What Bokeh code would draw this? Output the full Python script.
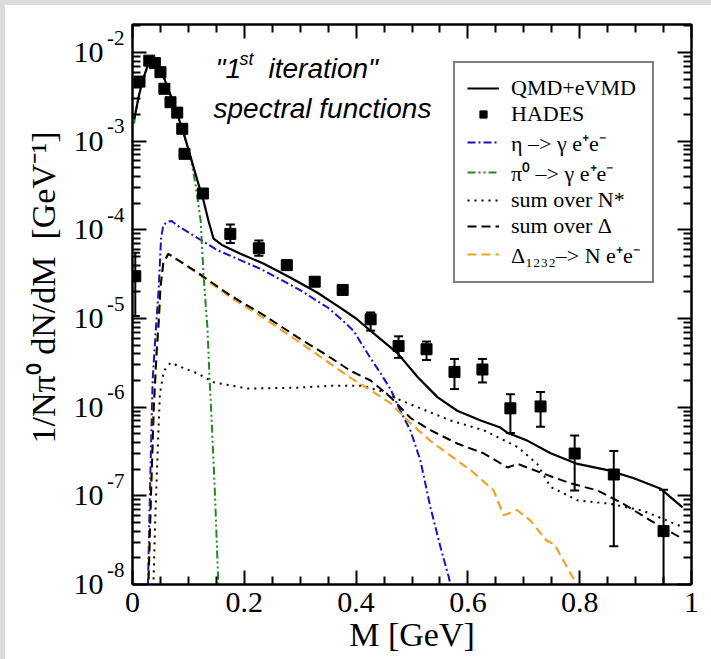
import math
from bokeh.plotting import figure
from bokeh.models import (FixedTicker, LinearAxis, LogAxis, Label, Legend, LegendItem, LogScale,
                          ColumnDataSource, Whisker, TeeHead, CustomJSTickFormatter, Range1d)
from bokeh.embed import file_html
from bokeh.resources import INLINE

# ---------------- data ----------------
qmd_m = [0.003, 0.005, 0.012, 0.02, 0.029, 0.036, 0.045, 0.056, 0.065, 0.074, 0.083, 0.092,
         0.104, 0.116, 0.127, 0.136, 0.145, 0.16, 0.193, 0.234, 0.283, 0.331, 0.372, 0.40,
         0.426, 0.474, 0.51, 0.546, 0.581, 0.623, 0.658, 0.671, 0.707, 0.748, 0.796, 0.85,
         0.897, 0.945, 0.984]
qmd_y = [1.78e-3, 2.04e-3, 3.39e-3, 5.25e-3, 7.76e-3, 8.13e-3, 7.08e-3, 5.25e-3, 3.72e-3,
         2.63e-3, 1.78e-3, 1.20e-3, 6.61e-4, 3.63e-4, 2.14e-4, 1.26e-4, 7.94e-5, 6.76e-5,
         5.37e-5, 4.17e-5, 2.88e-5, 1.95e-5, 1.32e-5, 1.0e-5, 7.24e-6, 4.07e-6, 2.19e-6,
         1.29e-6, 9.12e-7, 7.08e-7, 5.89e-7, 5.13e-7, 4.17e-7, 3.02e-7, 2.29e-7, 1.95e-7,
         1.58e-7, 1.20e-7, 7.41e-8]

pi0_m = [0.003, 0.005, 0.012, 0.02, 0.029, 0.038, 0.047, 0.056, 0.065, 0.074, 0.083, 0.092,
         0.104, 0.113, 0.122, 0.127, 0.134, 0.138, 0.142, 0.147, 0.153, 0.155]
pi0_y = [1.58e-3, 2.04e-3, 3.39e-3, 5.01e-3, 7.76e-3, 8.13e-3, 6.61e-3, 5.25e-3, 3.72e-3,
         2.63e-3, 1.78e-3, 1.20e-3, 6.61e-4, 3.16e-4, 1.26e-4, 3.16e-5, 7.94e-6, 2.0e-6,
         6.31e-7, 1.26e-7, 1.26e-8, 6.31e-9]

eta_m = [0.027, 0.031, 0.036, 0.042, 0.047, 0.051, 0.055, 0.062, 0.07, 0.08, 0.152, 0.229,
         0.30, 0.349, 0.372, 0.395, 0.426, 0.444, 0.462, 0.479, 0.497, 0.515, 0.533, 0.551,
         0.566, 0.572]
eta_y = [6.31e-9, 1.0e-7, 2.0e-6, 7.94e-6, 2.24e-5, 7.94e-5, 1.12e-4, 1.23e-4, 1.26e-4,
         1.12e-4, 5.89e-5, 3.63e-5, 2.09e-5, 1.33e-5, 1.0e-5, 7.33e-6, 3.55e-6, 2.40e-6,
         1.58e-6, 9.12e-7, 5.50e-7, 2.51e-7, 7.41e-8, 2.63e-8, 1.20e-8, 7.94e-9]

nstar_m = [0.037, 0.041, 0.045, 0.049, 0.056, 0.068, 0.116, 0.145, 0.206, 0.295, 0.354,
           0.413, 0.449, 0.479, 0.51, 0.569, 0.628, 0.689, 0.724, 0.748, 0.796, 0.855,
           0.914, 0.98]
nstar_y = [7.94e-9, 6.31e-8, 3.16e-7, 1.41e-6, 2.57e-6, 3.16e-6, 2.40e-6, 1.91e-6, 1.62e-6,
           1.66e-6, 1.74e-6, 1.74e-6, 1.48e-6, 1.20e-6, 1.0e-6, 7.08e-7, 5.50e-7, 3.55e-7,
           2.29e-7, 1.26e-7, 8.91e-8, 8.13e-8, 6.76e-8, 4.57e-8]

delta_m = [0.028, 0.033, 0.038, 0.043, 0.047, 0.05, 0.055, 0.064, 0.116, 0.175, 0.234,
           0.295, 0.354, 0.39, 0.426, 0.462, 0.497, 0.533, 0.581, 0.628, 0.671, 0.689,
           0.735, 0.784, 0.832, 0.878, 0.927, 0.98]
delta_y = [7.94e-9, 1.0e-7, 1.0e-6, 3.98e-6, 9.55e-6, 2.24e-5, 4.17e-5, 5.37e-5, 3.31e-5,
           1.82e-5, 1.10e-5, 6.17e-6, 3.63e-6, 2.57e-6, 2.0e-6, 1.29e-6, 7.59e-7, 5.50e-7,
           3.89e-7, 3.02e-7, 2.09e-7, 2.29e-7, 1.78e-7, 1.38e-7, 1.15e-7, 8.13e-8, 5.25e-8,
           3.39e-8]

d1232_m = [0.028, 0.033, 0.038, 0.043, 0.047, 0.05, 0.055, 0.064, 0.116, 0.175, 0.234,
           0.295, 0.354, 0.39, 0.426, 0.462, 0.497, 0.533, 0.563, 0.605, 0.646, 0.664,
           0.688, 0.712, 0.74, 0.755, 0.784, 0.80]
d1232_y = [7.94e-9, 1.0e-7, 1.0e-6, 3.98e-6, 9.55e-6, 2.24e-5, 4.17e-5, 5.37e-5, 3.24e-5,
           1.74e-5, 1.02e-5, 5.62e-6, 3.09e-6, 2.14e-6, 1.55e-6, 1.10e-6, 6.61e-7, 4.17e-7,
           3.02e-7, 1.95e-7, 1.15e-7, 6.03e-8, 6.92e-8, 5.25e-8, 3.16e-8, 2.82e-8, 1.32e-8,
           8.91e-9]

hades_m = [0.005, 0.0125, 0.03, 0.04, 0.05, 0.057, 0.068, 0.08, 0.089, 0.093, 0.126, 0.175,
           0.226, 0.276, 0.326, 0.376, 0.426, 0.476, 0.526, 0.576, 0.626, 0.676, 0.730,
           0.791, 0.861, 0.950]
hades_y = [3.0e-5, 4.7e-3, 8.1e-3, 7.6e-3, 6.0e-3, 3.9e-3, 2.75e-3, 2.1e-3, 1.38e-3, 7.2e-4,
           2.57e-4, 9.0e-5, 6.2e-5, 4.0e-5, 2.6e-5, 2.1e-5, 9.8e-6, 4.9e-6, 4.5e-6, 2.5e-6,
           2.66e-6, 9.7e-7, 1.02e-6, 3.0e-7, 1.74e-7, 4.0e-8]

err_m = [0.005, 0.175, 0.226, 0.426, 0.476, 0.526, 0.576, 0.626, 0.676, 0.730, 0.791, 0.861, 0.950]
err_lo = [1.07e-5, 7.1e-5, 5.1e-5, 7.3e-6, 3.6e-6, 3.4e-6, 1.6e-6, 1.9e-6, 5.1e-7, 6.0e-7,
          1.15e-7, 2.7e-8, 1.0e-9]
err_hi = [5.5e-5, 1.15e-4, 7.6e-5, 1.17e-5, 6.3e-6, 5.5e-6, 3.5e-6, 3.5e-6, 1.4e-6, 1.48e-6,
          4.8e-7, 3.2e-7, 1.17e-7]

x_major = [0, 0.2, 0.4, 0.6, 0.8, 1.0]
x_minor = [0.05, 0.1, 0.15, 0.25, 0.3, 0.35, 0.45, 0.5, 0.55, 0.65, 0.7, 0.75, 0.85, 0.9, 0.95]
y_major = [1e-8, 1e-7, 1e-6, 1e-5, 1e-4, 1e-3, 1e-2]
y_base = ["10", "10", "10", "10", "10", "10", "10"]
y_exp = ["-8", "-7", "-6", "-5", "-4", "-3", "-2"]
y_minor = [m * 10.0 ** k for k in range(-8, -1) for m in range(2, 10)]

legend_labels = ["QMD+eVMD", "HADES", "η –> γ e⁺e⁻", "π⁰ –> γ e⁺e⁻",
                 "sum over N*", "sum over Δ", "Δ₁₂₃₂–> N e⁺e⁻"]

NBSP = "\u00a0"
x_title = "M [GeV]"
y_title = NBSP * 4 + "1/Nπ⁰ dN/dM" + NBSP + " [GeV⁻¹]"

SERIF = "Liberation Serif"
SANS = "Liberation Sans"

Y_BOT, Y_TOP = 1e-8, 2.07e-2
FRAME_H = 560

# ---------------- figure ----------------
p = figure(width=711, height=659, x_range=Range1d(0, 1), y_range=Range1d(Y_BOT, Y_TOP),
           y_axis_type="log", output_backend="svg", toolbar_location=None,
           min_border_left=127, min_border_right=25, min_border_top=19, min_border_bottom=80,
           background_fill_color="white", border_fill_color="white",
           styles={"border-top": "5px solid #dcdcdc", "border-left": "5px solid #dcdcdc",
                   "box-sizing": "border-box", "overflow": "hidden"})
p.grid.visible = False
p.outline_line_color = "black"
p.outline_line_width = 2

# extra range, used only to lift the exponent labels into superscript position
px_per_decade = FRAME_H / math.log10(Y_TOP / Y_BOT)
lift = 10 ** (15 / px_per_decade)
p.extra_y_ranges = {"exp": Range1d(Y_BOT / lift, Y_TOP / lift)}
p.extra_y_scales = {"exp": LogScale()}

xt = FixedTicker(ticks=x_major, minor_ticks=x_minor)
yt = FixedTicker(ticks=y_major, minor_ticks=y_minor)
empty = CustomJSTickFormatter(code="return ''")


def style_axis(ax):
    ax.axis_line_color = "black"
    ax.axis_line_width = 2
    ax.major_tick_in = 14
    ax.major_tick_out = 0
    ax.minor_tick_in = 8
    ax.minor_tick_out = 0
    ax.major_tick_line_width = 2
    ax.minor_tick_line_width = 2
    ax.major_tick_line_color = "black"
    ax.minor_tick_line_color = "black"


def bare_axis(ax):
    ax.axis_line_color = None
    ax.major_tick_in = 0
    ax.major_tick_out = 0
    ax.minor_tick_in = 0
    ax.minor_tick_out = 0
    ax.major_tick_line_color = None
    ax.minor_tick_line_color = None


# bottom axis
xb = p.xaxis[0]
xb.ticker = xt
xb.formatter = CustomJSTickFormatter(code="return tick.toFixed(1).replace(/\\.0$/, '')")
style_axis(xb)
xb.major_label_text_font = SERIF
xb.major_label_text_font_size = "30px"
xb.major_label_text_color = "black"
xb.major_label_standoff = 8
xb.axis_label = x_title
xb.axis_label_text_font = SERIF
xb.axis_label_text_font_size = "34px"
xb.axis_label_text_font_style = "normal"
xb.axis_label_text_color = "black"
xb.axis_label_standoff = 1

# left axis on the frame: ticks only
yl = p.yaxis[0]
yl.ticker = yt
style_axis(yl)
yl.formatter = empty
yl.major_label_text_font_size = "2px"
yl.major_label_standoff = 0

# exponent labels (lifted)
ye = LogAxis(ticker=yt, y_range_name="exp")
bare_axis(ye)
ye.major_label_overrides = dict(zip(y_major, y_exp))
ye.major_label_text_font = SERIF
ye.major_label_text_font_size = "21px"
ye.major_label_text_color = "black"
ye.major_label_standoff = 8
p.add_layout(ye, "left")

# "10" bases and the axis title
yb = LogAxis(ticker=yt)
bare_axis(yb)
yb.major_label_overrides = dict(zip(y_major, y_base))
yb.major_label_text_font = SERIF
yb.major_label_text_font_size = "30px"
yb.major_label_text_color = "black"
yb.major_label_standoff = 1
yb.axis_label = y_title
yb.axis_label_text_font = SERIF
yb.axis_label_text_font_size = "34px"
yb.axis_label_text_font_style = "normal"
yb.axis_label_text_color = "black"
yb.axis_label_standoff = 9
p.add_layout(yb, "left")

# top and right axes: ticks only
xa = LinearAxis(ticker=xt, formatter=empty, major_label_text_font_size="2px", major_label_standoff=0)
style_axis(xa)
p.add_layout(xa, "above")
yr = LogAxis(ticker=yt, formatter=empty, major_label_text_font_size="2px", major_label_standoff=0)
style_axis(yr)
p.add_layout(yr, "right")

# ---------------- curves ----------------
BLUE = "#1414c4"
GREEN = "#1f8a1f"
ORANGE = "#eea226"

r_eta = p.line(eta_m, eta_y, line_color=BLUE, line_width=2, line_dash="8 3 2 3")
r_pi0 = p.line(pi0_m, pi0_y, line_color=GREEN, line_width=2, line_dash="8 3 2 3 2 3")
r_nst = p.line(nstar_m, nstar_y, line_color="black", line_width=2, line_dash="2 5")
r_d12 = p.line(d1232_m, d1232_y, line_color=ORANGE, line_width=2.2, line_dash="9 5")
r_del = p.line(delta_m, delta_y, line_color="black", line_width=2, line_dash="9 5")
r_qmd = p.line(qmd_m, qmd_y, line_color="black", line_width=2.2)

err_src = ColumnDataSource(dict(m=err_m, lo=err_lo, hi=err_hi))
p.add_layout(Whisker(source=err_src, base="m", lower="lo", upper="hi",
                     line_color="black", line_width=2,
                     upper_head=TeeHead(size=9, line_color="black", line_width=2),
                     lower_head=TeeHead(size=9, line_color="black", line_width=2)))
r_had = p.scatter(hades_m, hades_y, marker="square", size=11, color="black")

# ---------------- legend ----------------
legend = Legend(items=[LegendItem(label=legend_labels[0], renderers=[r_qmd]),
                       LegendItem(label=legend_labels[1], renderers=[r_had]),
                       LegendItem(label=legend_labels[2], renderers=[r_eta]),
                       LegendItem(label=legend_labels[3], renderers=[r_pi0]),
                       LegendItem(label=legend_labels[4], renderers=[r_nst]),
                       LegendItem(label=legend_labels[5], renderers=[r_del]),
                       LegendItem(label=legend_labels[6], renderers=[r_d12])],
                location=(321, 301), orientation="vertical")
legend.border_line_color = "black"
legend.border_line_width = 2
legend.background_fill_color = "white"
legend.background_fill_alpha = 1
legend.label_text_font = SERIF
legend.label_text_font_size = "22px"
legend.label_text_color = "black"
legend.glyph_width = 32
legend.glyph_height = 18
legend.label_height = 18
legend.spacing = 0
legend.padding = 12
legend.label_standoff = 12
legend.margin = 0
p.add_layout(legend, "center")

# ---------------- in-plot annotation ----------------
note = [('"1', 83, 516, "28px"), ("st", 107, 526, "18px"), ('iteration"', 136, 516, "28px"),
        ("spectral functions", 81, 476, "28px")]
for t, sx, sy, fs in note:
    p.add_layout(Label(x=sx, y=sy, x_units="screen", y_units="screen", text=t,
                       text_align="left", text_baseline="alphabetic", text_font=SANS,
                       text_font_style="italic", text_font_size=fs, text_color="black"))

open("out.html", "w").write(file_html(p, INLINE))
